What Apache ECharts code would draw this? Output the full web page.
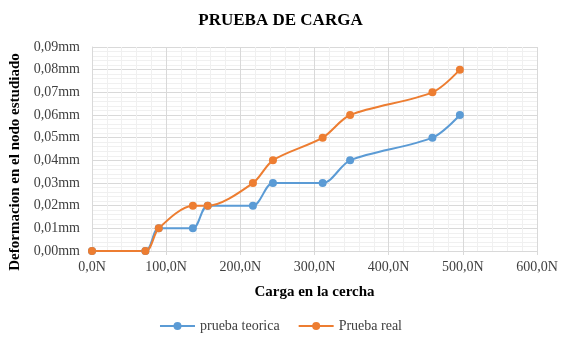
<!DOCTYPE html>
<html><head><meta charset="utf-8">
<script src="https://cdn.jsdelivr.net/npm/echarts@6/dist/echarts.min.js"></script>
<style>html,body{margin:0;padding:0;background:#fff}#c{width:561px;height:343px}</style>
</head><body><div id="c"></div>
<script>
const cargas = [0, 72, 90, 136, 156, 217, 244, 311, 348, 459, 496];
const pruebaTeorica = [0, 0, 0.01, 0.01, 0.02, 0.02, 0.03, 0.03, 0.04, 0.05, 0.06];
const pruebaReal = [0, 0, 0.01, 0.02, 0.02, 0.03, 0.04, 0.05, 0.06, 0.07, 0.08];
const seriesNames = ['prueba teorica', 'Prueba real'];

const serif = 'Liberation Serif';
const chart = echarts.init(document.getElementById('c'));
const mk = (ys) => cargas.map((x, i) => [x, ys[i]]);
chart.setOption({
  animation: false,
  title: { text: 'PRUEBA DE CARGA', left: 'center', top: 7,
    textStyle: { fontFamily: serif, fontWeight: 'bold', fontSize: 17, color: '#000' } },
  grid: { left: 92, right: 24, top: 47, bottom: 92, containLabel: false, outerBoundsMode: 'none' },
  legend: { bottom: 5, left: 'center', itemWidth: 35, itemHeight: 10, itemGap: 18,
    textStyle: { fontFamily: serif, fontSize: 14, color: '#404040' },
    data: seriesNames },
  xAxis: { type: 'value', min: 0, max: 600, interval: 100,
    name: 'Carga en la cercha', nameLocation: 'middle', nameGap: 34,
    nameTextStyle: { fontFamily: serif, fontWeight: 'bold', fontSize: 15, color: '#000' },
    axisLine: { show: true, lineStyle: { color: '#d9d9d9' } },
    axisTick: { show: true, length: 4, lineStyle: { color: '#d9d9d9' } },
    axisLabel: { fontFamily: serif, fontSize: 14, color: '#404040', margin: 9,
      formatter: v => v.toFixed(1).replace('.', ',') + 'N' },
    splitLine: { show: true, lineStyle: { color: '#d9d9d9' } },
    minorSplitLine: { show: true, lineStyle: { color: '#f0f0f0' } },
    minorTick: { show: false, splitNumber: 5 } },
  yAxis: { type: 'value', min: 0, max: 0.09, interval: 0.01,
    name: 'Deformacion en el nodo estudiado', nameLocation: 'middle', nameGap: 67,
    nameTextStyle: { fontFamily: serif, fontWeight: 'bold', fontSize: 15, color: '#000',
      padding: [0, 26, 0, 0] },
    axisLine: { show: true, lineStyle: { color: '#d9d9d9' } },
    axisTick: { show: false },
    axisLabel: { fontFamily: serif, fontSize: 14, color: '#404040', margin: 12,
      formatter: v => v.toFixed(2).replace('.', ',') + 'mm' },
    splitLine: { show: true, lineStyle: { color: '#d9d9d9' } },
    minorSplitLine: { show: true, lineStyle: { color: '#f0f0f0' } },
    minorTick: { show: false, splitNumber: 5 } },
  series: [
    { name: seriesNames[0], type: 'line', data: mk(pruebaTeorica), smooth: 0.3,
      symbol: 'circle', symbolSize: 8, color: '#5B9BD5', lineStyle: { width: 2 } },
    { name: seriesNames[1], type: 'line', data: mk(pruebaReal), smooth: 0.3,
      symbol: 'circle', symbolSize: 8, color: '#ED7D31', lineStyle: { width: 2 } }
  ]
});
</script></body></html>
